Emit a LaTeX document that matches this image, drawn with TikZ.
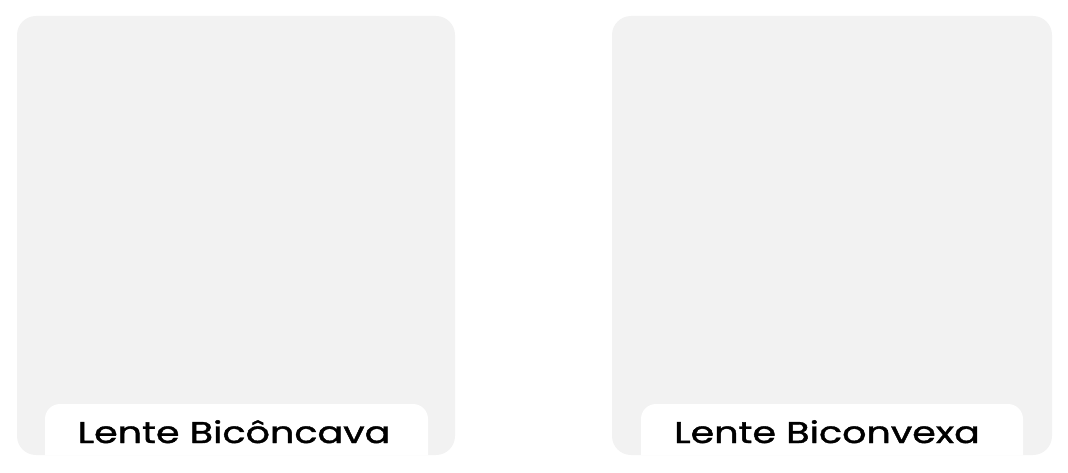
\documentclass[tikz,border=0pt]{standalone}
\usepackage{fontspec}
\setmainfont{Poppins}
\newfontfamily\labelfont{Poppins}[FakeBold=1.2]
\begin{document}
\begin{tikzpicture}[x=1pt,y=1pt,
  panel/.style={fill=panelgray, rounded corners=19pt},
  labelbox/.style={fill=white},
  labeltext/.style={font=\labelfont\fontsize{30}{34}\selectfont, text=black, anchor=base, inner sep=0pt, xscale=1.27}]
\definecolor{panelgray}{HTML}{F2F2F2}
\useasboundingbox (0,0) rectangle (1068,472);
% left panel
\path[panel] (17,17) rectangle (455,456);
\path[labelbox] (45,17) -- (45,53) [rounded corners=15pt] -- (45,68) -- (428,68) [sharp corners] -- (428,53) -- (428,17) -- cycle;
\node[labeltext] (lt) at (234,29) {Lente Bicôncava};
% right panel
\path[panel] (612,17) rectangle (1052,456);
\path[labelbox] (641,17) -- (641,53) [rounded corners=15pt] -- (641,68) -- (1023,68) [sharp corners] -- (1023,53) -- (1023,17) -- cycle;
\node[labeltext] (rt) at (827,29) {Lente Biconvexa};
\end{tikzpicture}
\end{document}
